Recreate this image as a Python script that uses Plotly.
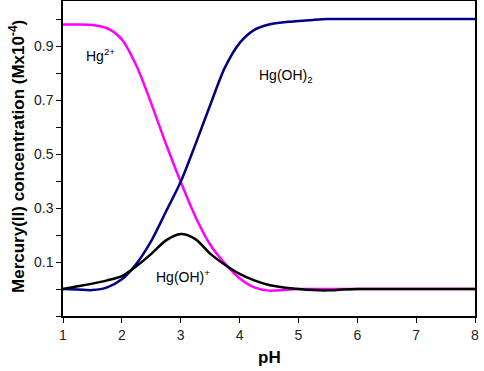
import plotly.graph_objects as go

ph = [1, 1.25, 1.5, 1.75, 2, 2.25, 2.5, 2.75, 3, 3.25, 3.5, 3.75, 4, 4.25, 4.5,
      4.75, 5, 5.25, 5.5, 5.75, 6, 6.5, 7, 7.5, 8]
hg2 = [0.98, 0.98, 0.978, 0.966, 0.925, 0.826, 0.687, 0.537, 0.397, 0.268, 0.165,
       0.095, 0.04, 0.006, -0.006, -0.004, 0.0, 0.0, 0.0, 0.0, 0.0, 0.0, 0.0, 0.0, 0.0]
hgoh2 = [0.0, -0.002, -0.004, 0.006, 0.036, 0.094, 0.178, 0.287, 0.397, 0.536, 0.681,
         0.82, 0.911, 0.96, 0.98, 0.988, 0.993, 0.997, 1.0, 1.0, 1.0, 1.0, 1.0, 1.0, 1.0]
hgoh = [0.0, 0.01, 0.02, 0.032, 0.048, 0.085, 0.13, 0.18, 0.204, 0.185, 0.131,
        0.09, 0.056, 0.032, 0.015, 0.006, 0.0, -0.004, -0.005, -0.002, 0.0, 0.0, 0.0, 0.0, 0.0]

ytickvals = [-0.1, 0.0, 0.1, 0.2, 0.3, 0.4, 0.5, 0.6, 0.7, 0.8, 0.9, 1.0]
yticktext = ["", "", "0.1", "", "0.3", "", "0.5", "", "0.7", "", "0.9", ""]
xtickvals = [1, 2, 3, 4, 5, 6, 7, 8]

FONT = "Liberation Sans, Arial, sans-serif"

fig = go.Figure()
fig.add_trace(go.Scatter(x=ph, y=hg2, mode="lines", line=dict(color="#FF00FF", width=2.5, shape="spline", smoothing=0.8), showlegend=False))
fig.add_trace(go.Scatter(x=ph, y=hgoh2, mode="lines", line=dict(color="#000080", width=2.5, shape="spline", smoothing=0.8), showlegend=False))
fig.add_trace(go.Scatter(x=ph, y=hgoh, mode="lines", line=dict(color="#000000", width=2.5, shape="spline", smoothing=0.8), showlegend=False))

lab_font = dict(family=FONT, size=14, color="#000000")
fig.add_annotation(x=1.63, y=0.867, text="Hg<sup>2+</sup>", showarrow=False, font=lab_font)
fig.add_annotation(x=4.79, y=0.79, text="Hg(OH)<sub>2</sub>", showarrow=False, font=lab_font)
fig.add_annotation(x=3.04, y=0.05, text="Hg(OH)<sup>+</sup>", showarrow=False, font=lab_font)

# axis titles
fig.add_annotation(xref="paper", yref="paper", x=-0.1117, y=0.508, textangle=-90,
                   xanchor="center", yanchor="middle",
                   text="<b>Mercury(II) concentration (Mx10<sup>-4</sup>)</b>", showarrow=False,
                   font=dict(family=FONT, size=17, color="#000"))
fig.add_annotation(xref="paper", yref="paper", x=0.502, y=-0.133,
                   xanchor="center", yanchor="middle",
                   text="<b>pH</b>", showarrow=False,
                   font=dict(family=FONT, size=17, color="#000"))

fig.update_layout(
    width=484, height=371,
    margin=dict(l=63, r=9, t=1, b=55),
    paper_bgcolor="white", plot_bgcolor="white",
    font=dict(family=FONT, size=14, color="#222222"),
    xaxis=dict(range=[1, 8], tickvals=xtickvals, ticks="outside", ticklen=5, tickcolor="#000",
               showline=True, linecolor="#000", linewidth=1.5, mirror=True, showgrid=False, zeroline=False,
               automargin=False, ticklabeloverflow="allow",
               tickfont=dict(size=14, color="#222")),
    yaxis=dict(range=[-0.1, 1.067], tickvals=ytickvals, ticktext=yticktext, ticks="outside", ticklen=5, tickcolor="#000",
               showline=True, linecolor="#000", linewidth=1.5, mirror=True, showgrid=False, zeroline=False,
               automargin=False,
               tickfont=dict(size=14, color="#222")),
)

fig.write_html("out.html", config={"displayModeBar": False},
               post_script="document.body.style.margin='0';document.body.style.padding='0';")
